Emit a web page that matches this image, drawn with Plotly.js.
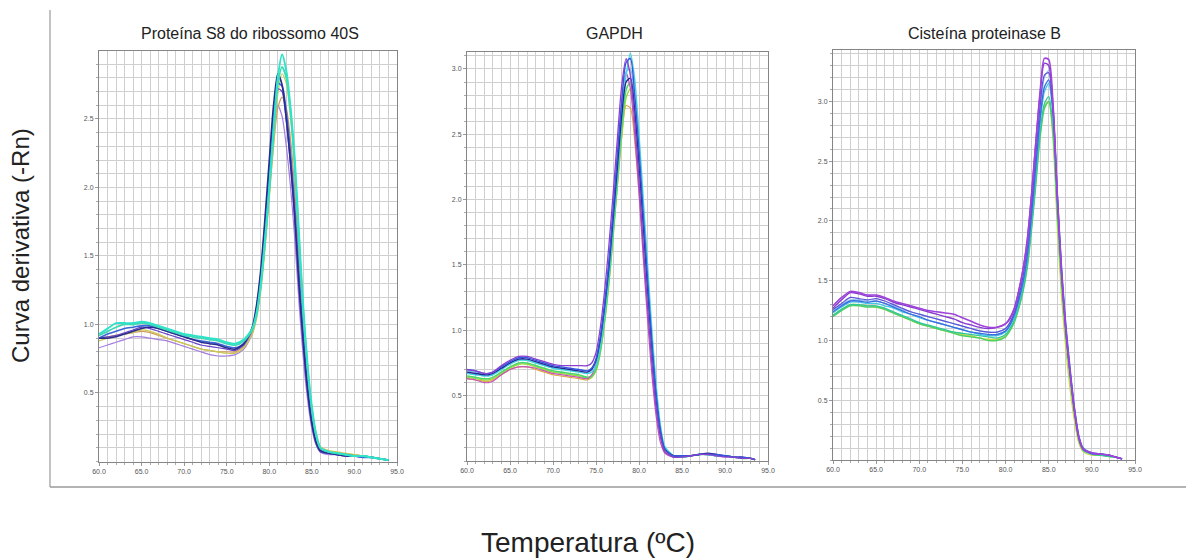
<!DOCTYPE html>
<html>
<head>
<meta charset="utf-8">
<script src="https://cdn.plot.ly/plotly-3.0.1.min.js"></script>
<style>html,body{margin:0;padding:0;background:#fff;}#chart{width:1186px;height:560px;}</style>
</head>
<body>
<div id="chart"></div>
<script>
// ---------- Data ----------
const panelTitles = ["Proteína S8 do ribossomo 40S", "GAPDH", "Cisteína proteinase B"];
const xTitle = "Temperatura (ºC)";
const yTitle = "Curva derivativa (-Rn)";
const xTickVals = [60, 65, 70, 75, 80, 85, 90, 95];
const yTickVals = [0.5, 1.0, 1.5, 2.0, 2.5, 3.0];

// Panel 1: Proteína S8 do ribossomo 40S
const temp1 = [60,61,62,63,64,65,66,67,68,69,70,71,72,73,74,75,76,77,78,78.5,79,79.5,80,80.5,81,81.5,82,82.5,83,83.5,84,84.5,85,85.5,86,87,88,89,90,91,92,93,94];
const s8_turq1  = [0.93,0.97,1.01,1.01,1.01,1.02,1.01,0.99,0.97,0.95,0.93,0.92,0.91,0.90,0.89,0.87,0.86,0.89, 0.97,1.08,1.30,1.62,2.00,2.42,2.80,2.97,2.85,2.58,2.20,1.65,1.12,0.70,0.40,0.20,0.10,0.07,0.06,0.05,0.04,0.04,0.03,0.02,0.01];
const s8_turq2  = [0.92,0.95,0.98,1.00,1.00,1.01,1.00,0.98,0.96,0.94,0.92,0.91,0.90,0.89,0.88,0.86,0.85,0.88, 0.96,1.07,1.28,1.60,1.98,2.40,2.75,2.88,2.80,2.55,2.15,1.60,1.08,0.68,0.38,0.19,0.10,0.07,0.06,0.05,0.04,0.04,0.03,0.02,0.01];
const s8_blue   = [0.90,0.93,0.95,0.97,0.98,0.99,0.99,0.97,0.95,0.93,0.91,0.89,0.88,0.87,0.86,0.84,0.83,0.86, 0.97,1.12,1.36,1.72,2.12,2.50,2.76,2.74,2.55,2.25,1.85,1.35,0.92,0.55,0.30,0.15,0.08,0.06,0.05,0.05,0.04,0.03,0.03,0.02,0.01];
const s8_navy   = [0.90,0.90,0.91,0.93,0.95,0.97,0.98,0.97,0.95,0.93,0.91,0.89,0.87,0.86,0.85,0.83,0.82,0.86, 0.98,1.14,1.40,1.78,2.20,2.60,2.83,2.75,2.50,2.18,1.78,1.28,0.86,0.52,0.28,0.14,0.08,0.06,0.05,0.04,0.04,0.04,0.03,0.02,0.01];
const s8_yellow = [0.88,0.90,0.92,0.93,0.94,0.96,0.95,0.93,0.90,0.88,0.86,0.84,0.82,0.81,0.80,0.79,0.79,0.83, 0.93,1.04,1.24,1.55,1.92,2.33,2.68,2.83,2.76,2.50,2.12,1.60,1.10,0.70,0.40,0.21,0.11,0.08,0.07,0.06,0.05,0.04,0.03,0.02,0.01];
const s8_orange = [0.90,0.91,0.92,0.93,0.94,0.95,0.94,0.92,0.90,0.88,0.86,0.84,0.82,0.81,0.80,0.80,0.80,0.84, 0.94,1.06,1.27,1.58,1.94,2.30,2.58,2.66,2.58,2.35,1.98,1.48,1.00,0.62,0.35,0.18,0.09,0.07,0.06,0.05,0.05,0.04,0.03,0.02,0.01];
const s8_lilac  = [0.83,0.85,0.87,0.89,0.91,0.91,0.90,0.89,0.88,0.86,0.84,0.82,0.80,0.78,0.77,0.77,0.78,0.82, 0.93,1.08,1.32,1.66,2.04,2.40,2.60,2.52,2.30,2.00,1.62,1.15,0.75,0.45,0.24,0.12,0.07,0.05,0.05,0.04,0.04,0.03,0.03,0.02,0.01];
const s8_violet = [0.90,0.91,0.92,0.94,0.96,0.98,0.97,0.95,0.93,0.91,0.89,0.87,0.85,0.84,0.83,0.82,0.81,0.85, 0.96,1.11,1.36,1.72,2.12,2.50,2.72,2.70,2.48,2.15,1.75,1.25,0.84,0.50,0.27,0.13,0.07,0.06,0.05,0.04,0.04,0.03,0.03,0.02,0.01];

// Panel 2: GAPDH
const temp2 = [60,61,62,62.5,63,64,65,66,67,68,69,70,71,72,73,74,74.5,75,75.5,76,76.5,77,77.5,78,78.5,79,79.5,80,80.5,81,81.5,82,82.5,83,84,85,86,87,88,89,90,91,92,93,93.5];
const g_purple  = [0.70,0.69,0.67,0.67,0.68,0.73,0.77,0.80,0.80,0.78,0.76,0.74,0.73,0.73,0.73,0.73,0.75,0.83, 1.02,1.30,1.65,2.05,2.48,2.88,3.08,2.95,2.60,2.15,1.65,1.18,0.75,0.40,0.18,0.07, 0.03,0.03,0.04,0.05,0.05,0.04,0.03,0.03,0.02,0.02,0.01];
const g_blue    = [0.70,0.69,0.67,0.67,0.68,0.72,0.76,0.79,0.79,0.77,0.75,0.73,0.72,0.71,0.70,0.69,0.71,0.78, 0.95,1.20,1.52,1.92,2.35,2.76,3.05,3.08,2.80,2.38,1.88,1.38,0.90,0.50,0.23,0.09, 0.04,0.04,0.04,0.05,0.05,0.05,0.04,0.03,0.03,0.02,0.01];
const g_navy    = [0.68,0.67,0.66,0.66,0.67,0.71,0.75,0.78,0.78,0.76,0.74,0.72,0.71,0.70,0.69,0.68,0.70,0.77, 0.93,1.18,1.48,1.86,2.26,2.65,2.90,2.93,2.68,2.28,1.80,1.32,0.87,0.48,0.22,0.09, 0.04,0.04,0.04,0.05,0.06,0.05,0.04,0.03,0.03,0.02,0.01];
const g_cyan    = [0.67,0.66,0.65,0.65,0.66,0.70,0.74,0.77,0.77,0.75,0.73,0.71,0.70,0.69,0.68,0.67,0.68,0.73, 0.88,1.12,1.42,1.80,2.20,2.62,2.95,3.12,2.92,2.50,2.00,1.50,1.00,0.58,0.27,0.11, 0.04,0.03,0.04,0.05,0.05,0.04,0.04,0.03,0.02,0.02,0.01];
const g_sky     = [0.69,0.68,0.66,0.66,0.67,0.71,0.75,0.78,0.77,0.75,0.73,0.72,0.71,0.70,0.70,0.69,0.71,0.77, 0.93,1.18,1.50,1.90,2.30,2.72,2.98,3.00,2.75,2.33,1.84,1.35,0.88,0.49,0.22,0.09, 0.04,0.03,0.04,0.05,0.05,0.04,0.04,0.03,0.02,0.02,0.01];
const g_green   = [0.65,0.64,0.63,0.63,0.64,0.68,0.72,0.75,0.75,0.73,0.71,0.69,0.68,0.67,0.66,0.64,0.65,0.70, 0.84,1.08,1.38,1.75,2.15,2.55,2.84,2.90,2.70,2.30,1.84,1.36,0.90,0.52,0.24,0.10, 0.04,0.03,0.04,0.05,0.05,0.04,0.04,0.03,0.02,0.02,0.01];
const g_lime    = [0.64,0.63,0.62,0.62,0.63,0.67,0.71,0.74,0.74,0.72,0.70,0.68,0.67,0.66,0.65,0.63,0.64,0.69, 0.83,1.06,1.35,1.72,2.12,2.50,2.78,2.85,2.66,2.27,1.80,1.33,0.88,0.50,0.23,0.10, 0.04,0.03,0.04,0.05,0.05,0.04,0.04,0.03,0.02,0.02,0.01];
const g_orange  = [0.63,0.62,0.61,0.61,0.62,0.66,0.70,0.72,0.72,0.70,0.68,0.66,0.65,0.64,0.63,0.62,0.64,0.70, 0.85,1.08,1.38,1.75,2.12,2.48,2.72,2.70,2.45,2.06,1.62,1.18,0.76,0.42,0.19,0.08, 0.03,0.03,0.04,0.05,0.05,0.04,0.04,0.03,0.02,0.02,0.01];
const g_pink    = [0.63,0.62,0.60,0.60,0.61,0.66,0.70,0.72,0.72,0.71,0.69,0.67,0.66,0.65,0.64,0.63,0.66,0.74, 0.92,1.18,1.52,1.92,2.35,2.75,2.97,2.85,2.50,2.05,1.55,1.08,0.66,0.34,0.14,0.06, 0.03,0.03,0.04,0.05,0.05,0.04,0.04,0.03,0.02,0.02,0.01];

// Panel 3: Cisteína proteinase B
const temp3 = [60,61,62,63,64,65,66,67,68,69,70,71,72,73,74,75,76,77,78,79,80,80.5,81,81.5,82,82.5,83,83.5,84,84.5,85,85.5,86,86.5,87,87.5,88,88.5,89,90,91,92,93,93.5];
const c_purple1 = [1.29,1.36,1.41,1.40,1.38,1.38,1.36,1.33,1.31,1.29,1.27,1.25,1.24,1.23,1.22,1.19,1.16,1.13,1.11,1.11,1.14, 1.18,1.26,1.40,1.58,1.82,2.20,2.65,3.08,3.36,3.35,2.98,2.22,1.56,1.08,0.72,0.41,0.19,0.09, 0.06,0.05,0.04,0.02,0.01];
const c_purple2 = [1.27,1.34,1.40,1.39,1.37,1.37,1.35,1.32,1.30,1.28,1.26,1.24,1.22,1.20,1.18,1.15,1.13,1.11,1.10,1.11,1.14, 1.19,1.27,1.41,1.59,1.84,2.22,2.66,3.06,3.32,3.30,2.95,2.20,1.55,1.07,0.71,0.40,0.18,0.09, 0.06,0.05,0.04,0.02,0.01];
const c_indigo  = [1.26,1.31,1.36,1.35,1.34,1.35,1.33,1.30,1.27,1.24,1.22,1.20,1.18,1.16,1.14,1.12,1.10,1.08,1.07,1.07,1.10, 1.15,1.23,1.36,1.53,1.77,2.12,2.55,2.96,3.22,3.24,2.92,2.18,1.54,1.07,0.71,0.40,0.18,0.09, 0.05,0.05,0.04,0.02,0.01];
const c_blue    = [1.24,1.29,1.33,1.33,1.32,1.33,1.31,1.28,1.25,1.22,1.20,1.17,1.15,1.13,1.11,1.09,1.07,1.06,1.05,1.05,1.08, 1.13,1.21,1.33,1.48,1.70,2.04,2.45,2.86,3.12,3.18,2.92,2.22,1.60,1.12,0.75,0.43,0.20,0.10, 0.06,0.05,0.04,0.02,0.01];
const c_cyan    = [1.23,1.28,1.32,1.32,1.31,1.31,1.29,1.27,1.24,1.22,1.19,1.17,1.15,1.13,1.11,1.09,1.07,1.05,1.04,1.04,1.07, 1.12,1.19,1.31,1.46,1.68,2.00,2.40,2.82,3.08,3.15,2.88,2.18,1.56,1.10,0.73,0.42,0.19,0.09, 0.05,0.05,0.04,0.02,0.01];
const c_sky     = [1.25,1.30,1.34,1.34,1.33,1.33,1.31,1.29,1.26,1.24,1.22,1.20,1.18,1.16,1.14,1.12,1.10,1.08,1.07,1.07,1.10, 1.15,1.23,1.35,1.51,1.74,2.08,2.50,2.92,3.20,3.26,2.95,2.20,1.55,1.08,0.72,0.41,0.19,0.09, 0.05,0.05,0.04,0.02,0.01];
const c_teal    = [1.21,1.26,1.30,1.30,1.29,1.29,1.27,1.24,1.21,1.18,1.15,1.13,1.11,1.09,1.07,1.06,1.05,1.04,1.03,1.02,1.05, 1.10,1.17,1.28,1.42,1.63,1.95,2.34,2.74,2.98,3.04,2.80,2.12,1.52,1.06,0.70,0.40,0.18,0.09, 0.05,0.04,0.03,0.02,0.01];
const c_green   = [1.20,1.25,1.29,1.29,1.28,1.28,1.26,1.23,1.20,1.17,1.14,1.12,1.10,1.08,1.06,1.04,1.03,1.02,1.00,1.00,1.03, 1.08,1.15,1.26,1.40,1.60,1.92,2.30,2.70,2.94,3.00,2.74,2.06,1.46,1.02,0.67,0.38,0.17,0.08, 0.05,0.04,0.03,0.02,0.01];
const c_yellow  = [1.21,1.26,1.30,1.30,1.29,1.28,1.26,1.23,1.20,1.17,1.14,1.12,1.10,1.08,1.07,1.05,1.04,1.02,1.01,1.01,1.04, 1.09,1.16,1.27,1.42,1.63,1.95,2.33,2.72,2.96,3.00,2.68,1.95,1.35,0.92,0.58,0.32,0.14,0.07, 0.04,0.04,0.03,0.02,0.01];

// ---------- Series definitions (data + colour) ----------
const panel1 = [
  [s8_lilac, '#a47ddf', 1.2], [s8_orange, '#d49a5c', 1.2], [s8_yellow, '#c8c955', 1.2],
  [s8_violet, '#6a44c9', 1.2], [s8_blue, '#3a66d8', 1.6], [s8_navy, '#2b2b8e', 1.6],
  [s8_turq2, '#3fd8b4', 1.8], [s8_turq1, '#30e3c8', 2.0]
];
const panel2 = [
  [g_orange, '#e0aa45', 1.2], [g_lime, '#9bd83e', 1.4], [g_green, '#4fd86a', 1.6],
  [g_pink, '#c553b8', 1.2], [g_sky, '#7cb8f0', 1.2], [g_cyan, '#3fd4e0', 1.4],
  [g_navy, '#272793', 1.4], [g_blue, '#3556dd', 1.4], [g_purple, '#8a40d0', 1.3]
];
const panel3 = [
  [c_yellow, '#c9d840', 1.3], [c_green, '#52d060', 1.5], [c_teal, '#30c89c', 1.3],
  [c_cyan, '#42c8e6', 1.3], [c_sky, '#92c6f0', 1.2], [c_blue, '#3a6ee0', 1.4],
  [c_indigo, '#5b50d8', 1.2], [c_purple2, '#8a3ad0', 1.4], [c_purple1, '#9f44da', 1.6]
];

const traces = [];
function addPanel(temps, list, idx) {
  const xa = idx === 1 ? 'x' : 'x' + idx;
  const ya = idx === 1 ? 'y' : 'y' + idx;
  list.forEach(([vals, color, w]) => {
    traces.push({
      type: 'scatter', mode: 'lines', x: temps, y: vals, xaxis: xa, yaxis: ya,
      line: {color: color, width: w, shape: 'spline', smoothing: 0.7},
      hoverinfo: 'skip'
    });
  });
}
addPanel(temp1, panel1, 1);
addPanel(temp2, panel2, 2);
addPanel(temp3, panel3, 3);

// ---------- Layout ----------
const W = 1186, H = 560;
const gridCol = '#cfcfcf';
const tickFont = {size: 7, color: '#555', family: 'Liberation Sans, Arial, sans-serif'};
function xAxis(d0, d1, anchor) {
  return {
    domain: [d0 / W, d1 / W], range: [60, 95], anchor: anchor,
    tickmode: 'array', tickvals: xTickVals, tickformat: '.1f',
    showgrid: true, gridcolor: gridCol, gridwidth: 1,
    minor: {tickmode: 'linear', tick0: 60, dtick: 1, showgrid: true, gridcolor: gridCol, gridwidth: 1, ticks: 'outside', ticklen: 2, tickcolor: '#aaa'},
    ticks: 'outside', ticklen: 3, tickcolor: '#999',
    showline: true, linecolor: '#858585', linewidth: 1, mirror: true, zeroline: false,
    tickfont: tickFont, fixedrange: true
  };
}
function yAxis(top, bottom, ymax, anchor) {
  return {
    domain: [1 - bottom / H, 1 - top / H], range: [0, ymax], anchor: anchor,
    tickmode: 'array', tickvals: yTickVals.filter(v => v < ymax - 0.02), tickformat: '.1f',
    showgrid: true, gridcolor: gridCol, gridwidth: 1,
    minor: {tickmode: 'linear', tick0: 0, dtick: 0.1, showgrid: true, gridcolor: gridCol, gridwidth: 1, ticks: 'outside', ticklen: 2, tickcolor: '#aaa'},
    ticks: 'outside', ticklen: 3, tickcolor: '#999',
    showline: true, linecolor: '#858585', linewidth: 1, mirror: true, zeroline: false,
    tickfont: tickFont, fixedrange: true
  };
}

const titleFont = {size: 16, color: '#222'};
const layout = {
  width: W, height: H,
  margin: {l: 0, r: 0, t: 0, b: 0},
  paper_bgcolor: '#ffffff', plot_bgcolor: '#ffffff',
  showlegend: false,
  font: {family: 'Liberation Sans, Arial, sans-serif', color: '#222'},
  xaxis:  xAxis(99, 397, 'y'),
  yaxis:  yAxis(51, 461.5, 2.996, 'x'),
  xaxis2: xAxis(467, 768, 'y2'),
  yaxis2: yAxis(52, 461, 3.13, 'x2'),
  xaxis3: xAxis(833, 1135, 'y3'),
  yaxis3: yAxis(50, 460, 3.43, 'x3'),
  annotations: [
    {text: panelTitles[0], x: 250 / W, y: 1 - 33 / H, xref: 'paper', yref: 'paper', showarrow: false, xanchor: 'center', yanchor: 'middle', font: titleFont},
    {text: panelTitles[1], x: 614 / W, y: 1 - 33 / H, xref: 'paper', yref: 'paper', showarrow: false, xanchor: 'center', yanchor: 'middle', font: titleFont},
    {text: panelTitles[2], x: 984 / W, y: 1 - 33 / H, xref: 'paper', yref: 'paper', showarrow: false, xanchor: 'center', yanchor: 'middle', font: titleFont},
    {text: yTitle, x: 20 / W, y: 1 - 246 / H, xref: 'paper', yref: 'paper', showarrow: false, textangle: -90, xanchor: 'center', yanchor: 'middle', font: {size: 24, color: '#222'}},
    {text: xTitle, x: 588 / W, y: 1 - 542 / H, xref: 'paper', yref: 'paper', showarrow: false, xanchor: 'center', yanchor: 'middle', font: {size: 28, color: '#222'}}
  ],
  shapes: [
    {type: 'line', xref: 'paper', yref: 'paper', x0: 50 / W, x1: 50 / W, y0: 1 - 487 / H, y1: 1 - 10 / H, line: {color: '#9a9a9a', width: 1.2}},
    {type: 'line', xref: 'paper', yref: 'paper', x0: 50 / W, x1: 1, y0: 1 - 487 / H, y1: 1 - 487 / H, line: {color: '#9a9a9a', width: 1.6}}
  ]
};

Plotly.newPlot('chart', traces, layout, {staticPlot: true, displayModeBar: false});
</script>
</body>
</html>
